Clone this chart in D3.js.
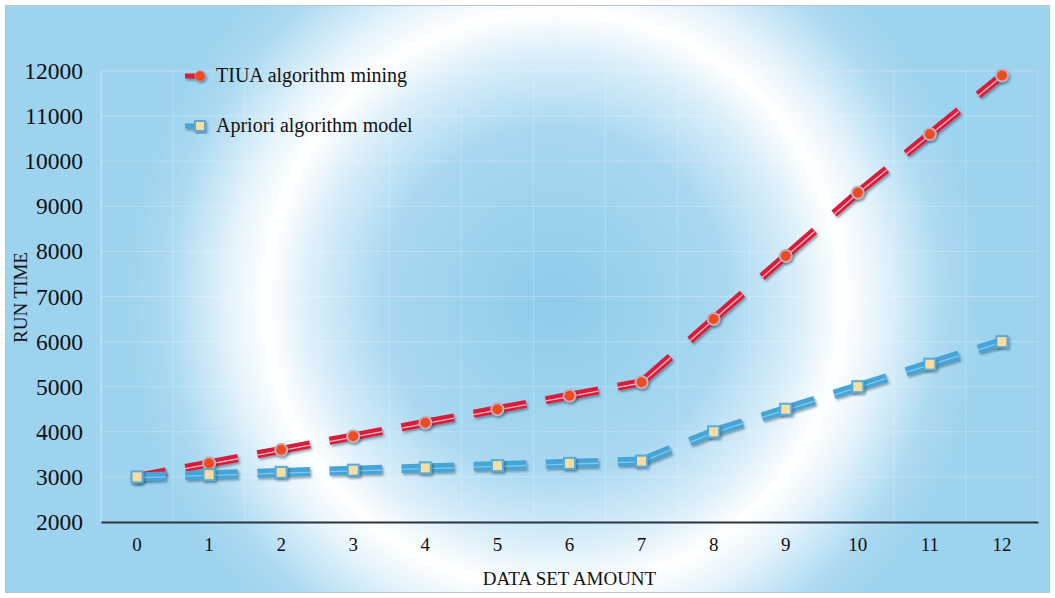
<!DOCTYPE html>
<html>
<head>
<meta charset="utf-8">
<script src="https://cdn.jsdelivr.net/npm/d3@7"></script>
<style>
  html, body { margin: 0; padding: 0; background: #fff; }
  #chart { width: 1055px; height: 598px; }
  text { font-family: "Liberation Serif", "Times New Roman", serif; fill: #111; }
</style>
</head>
<body>
<div id="chart"></div>
<script>
const categories = ["0", "1", "2", "3", "4", "5", "6", "7", "8", "9", "10", "11", "12"];
const tiuaValues = [3000, 3300, 3600, 3900, 4200, 4500, 4800, 5100, 6500, 7900, 9300, 10600, 11900];
const aprioriValues = [3000, 3050, 3100, 3150, 3200, 3250, 3300, 3350, 4000, 4500, 5000, 5500, 6000];
const yTicks = [2000, 3000, 4000, 5000, 6000, 7000, 8000, 9000, 10000, 11000, 12000];
const seriesNames = ["TIUA algorithm mining", "Apriori algorithm model"];

const width = 1055, height = 598;
const margin = {top: 71, right: 17, bottom: 76, left: 101};
const plotW = width - margin.left - margin.right;
const plotH = height - margin.top - margin.bottom;
const serif = "'Liberation Serif', 'Times New Roman', serif";

const svg = d3.select("#chart")
  .append("svg")
    .attr("width", width)
    .attr("height", height);

const defs = svg.append("defs");

// background: light blue with a soft white ring
const bg = defs.append("radialGradient")
  .attr("id", "bgGrad")
  .attr("gradientUnits", "userSpaceOnUse")
  .attr("cx", 555).attr("cy", 300).attr("r", 430);
[[0, "#8ecbea"], [0.4, "#a9d8f1"], [0.58, "#def0fa"], [0.67, "#ffffff"], [0.76, "#e4f3fb"], [0.9, "#acdaf1"], [1, "#9dd3ee"]]
  .forEach(([o, c]) => bg.append("stop").attr("offset", o).attr("stop-color", c));

const shadow = defs.append("filter").attr("id", "shadow")
  .attr("x", "-30%").attr("y", "-30%").attr("width", "160%").attr("height", "160%");
shadow.append("feDropShadow")
  .attr("dx", 1.5).attr("dy", 2).attr("stdDeviation", 1.3)
  .attr("flood-color", "#1a3a55").attr("flood-opacity", 0.45);

svg.append("rect")
  .attr("x", 5.5).attr("y", 5.5)
  .attr("width", width - 11).attr("height", height - 11)
  .attr("fill", "url(#bgGrad)")
  .attr("stroke", "#b9c3c9")
  .attr("stroke-width", 1);

const g = svg.append("g")
  .attr("transform", `translate(${margin.left}, ${margin.top})`);

const x = d3.scaleBand()
  .domain(categories)
  .range([0, plotW]);

const y = d3.scaleLinear()
  .domain([2000, 12000])
  .range([plotH, 0]);

// grid
g.append("g")
  .selectAll("line")
  .data(yTicks.slice(1))
  .join("line")
    .attr("x1", 0).attr("x2", plotW)
    .attr("y1", d => y(d)).attr("y2", d => y(d))
    .attr("stroke", "#ffffff").attr("stroke-opacity", 0.25).attr("stroke-width", 1);

g.append("g")
  .selectAll("line")
  .data(categories.concat(["end"]))
  .join("line")
    .attr("x1", d => d === "end" ? plotW : x(d)).attr("x2", d => d === "end" ? plotW : x(d))
    .attr("y1", 0).attr("y2", plotH)
    .attr("stroke", "#ffffff").attr("stroke-opacity", d => d === "0" ? 0.45 : 0.22).attr("stroke-width", 1);

// y axis labels
const yAxis = g.append("g")
  .call(d3.axisLeft(y).tickValues(yTicks).tickSize(0).tickPadding(18).tickFormat(d3.format("d")))
  .attr("font-family", serif);
yAxis.select(".domain").remove();
yAxis.selectAll("text")
  .style("font-family", serif)
  .style("font-size", "23.5px")
  .attr("fill", "#111");

// x axis
const xAxis = g.append("g")
  .attr("transform", `translate(0, ${plotH})`)
  .call(d3.axisBottom(x).tickSize(0).tickPadding(16))
  .attr("font-family", serif);
xAxis.select(".domain").attr("stroke", "#2b3440").attr("stroke-width", 2);
xAxis.selectAll("text")
  .style("font-family", serif)
  .style("font-size", "19px")
  .attr("fill", "#111");

// axis titles
svg.append("text")
  .attr("transform", `translate(27, ${margin.top + plotH / 2 + 1}) rotate(-90)`)
  .attr("text-anchor", "middle")
  .style("font-size", "19px")
  .text("RUN TIME");

svg.append("text")
  .attr("x", margin.left + plotW / 2)
  .attr("y", 585)
  .attr("text-anchor", "middle")
  .style("font-size", "19px")
  .text("DATA SET AMOUNT");

const cx = (d, i) => x(categories[i]) + x.bandwidth() / 2;

const styles = [
  {values: tiuaValues, color: "#d81f3b", stripe: "#f3b7c0", width: 8, marker: "circle"},
  {values: aprioriValues, color: "#45a5d8", stripe: "#86c8ea", width: 9, marker: "square"}
];

function drawSeries(s) {
  const pts = s.values.map((v, i) => [cx(v, i), y(v)]);
  const segs = d3.pairs(pts);
  const sg = g.append("g");

  const dash = ([a, b]) => {
    const L = Math.hypot(b[0] - a[0], b[1] - a[1]);
    return `${L * 0.4} ${L * 0.27} ${L * 0.33}`;
  };

  sg.append("g").attr("filter", "url(#shadow)")
    .selectAll("line")
    .data(segs)
    .join("line")
      .attr("x1", d => d[0][0]).attr("y1", d => d[0][1])
      .attr("x2", d => d[1][0]).attr("y2", d => d[1][1])
      .attr("stroke", s.color)
      .attr("stroke-width", s.width)
      .attr("stroke-dasharray", dash);

  sg.append("g")
    .selectAll("line")
    .data(segs)
    .join("line")
      .attr("x1", d => d[0][0]).attr("y1", d => d[0][1] + 0.8)
      .attr("x2", d => d[1][0]).attr("y2", d => d[1][1] + 0.8)
      .attr("stroke", s.stripe)
      .attr("stroke-width", 1.3)
      .attr("stroke-dasharray", dash);

  const mg = sg.append("g").attr("filter", "url(#shadow)");
  if (s.marker === "circle") {
    mg.selectAll("circle")
      .data(pts)
      .join("circle")
        .attr("cx", d => d[0]).attr("cy", d => d[1])
        .attr("r", 6)
        .attr("fill", "#f04b1f")
        .attr("stroke", "#c9aab9")
        .attr("stroke-width", 2);
  } else {
    mg.selectAll("rect")
      .data(pts)
      .join("rect")
        .attr("x", d => d[0] - 5.5).attr("y", d => d[1] - 5.5)
        .attr("width", 11).attr("height", 11)
        .attr("fill", "#f9dc9f")
        .attr("stroke", "#5aaad7")
        .attr("stroke-width", 2);
  }
}

styles.forEach(drawSeries);

// legend
const legend = svg.append("g");
styles.forEach((s, i) => {
  const ly = 76 + i * 50;
  const lg = legend.append("g").attr("filter", "url(#shadow)");
  lg.append("line")
    .attr("x1", 185).attr("x2", 195)
    .attr("y1", ly).attr("y2", ly)
    .attr("stroke", s.color).attr("stroke-width", 5);
  if (s.marker === "circle") {
    lg.append("circle").attr("cx", 200).attr("cy", ly).attr("r", 5)
      .attr("fill", "#f04b1f").attr("stroke", "#e07070").attr("stroke-width", 1);
  } else {
    lg.append("rect").attr("x", 195).attr("y", ly - 5).attr("width", 10).attr("height", 10)
      .attr("fill", "#f9dc9f").attr("stroke", "#5aaad7").attr("stroke-width", 2);
  }
  legend.append("text")
    .attr("x", 216).attr("y", ly + 6)
    .style("font-size", "20px")
    .text(seriesNames[i]);
});
</script>
</body>
</html>
